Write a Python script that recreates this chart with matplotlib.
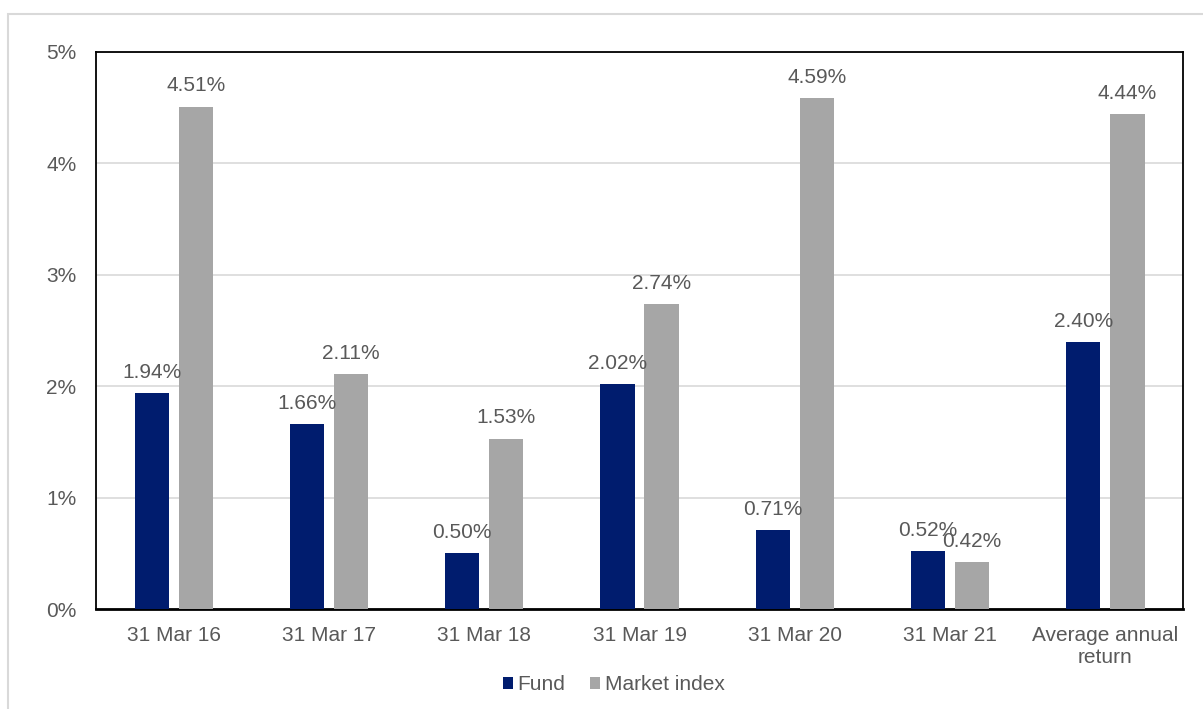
import numpy as np
import matplotlib.pyplot as plt
import matplotlib as mpl
from matplotlib.patches import Rectangle

plt.rcParams['font.family'] = ['Liberation Sans', 'DejaVu Sans']

categories = ['31 Mar 16', '31 Mar 17', '31 Mar 18', '31 Mar 19', '31 Mar 20',
              '31 Mar 21', 'Average annual\nreturn']
fund = [1.94, 1.66, 0.50, 2.02, 0.71, 0.52, 2.40]
market = [4.51, 2.11, 1.53, 2.74, 4.59, 0.42, 4.44]
yticks = [0, 1, 2, 3, 4, 5]

navy = '#001c6e'
grey = '#a6a6a6'
text_col = '#595959'

fig = plt.figure(figsize=(12.03, 7.09), dpi=100)
ax = fig.add_axes([0.0798, 0.141, 0.9036, 0.7857])

# light outer border like the source
fig.patches.append(Rectangle((8 / 1203, -0.02), 1.1, 1 - 14 / 709 + 0.02,
                             transform=fig.transFigure, fill=False,
                             edgecolor='#d9d9d9', linewidth=1.5))

x = np.arange(len(categories))
w = 0.22
off = 0.142
b1 = ax.bar(x - off, fund, w, color=navy, label='Fund', zorder=3)
b2 = ax.bar(x + off, market, w, color=grey, label='Market index', zorder=3)

for bars, vals in [(b1, fund), (b2, market)]:
    for b, v in zip(bars, vals):
        ax.annotate(f'{v:.2f}%', (b.get_x() + b.get_width() / 2, v),
                    xytext=(0, 8), textcoords='offset points',
                    ha='center', va='bottom', fontsize=15, color=text_col,
                    zorder=4)

ax.set_xlim(-0.5, len(categories) - 0.5)
ax.set_ylim(0, 5)
ax.set_yticks(yticks)
ax.set_yticklabels([f'{t}%' for t in yticks])
ax.set_xticks(x)
ax.set_xticklabels(categories, linespacing=1.25)
ax.tick_params(axis='both', length=0, labelsize=15, labelcolor=text_col)
ax.tick_params(axis='y', pad=14)
ax.tick_params(axis='x', pad=12)
ax.yaxis.grid(True, color='#d9d9d9', linewidth=1.2, zorder=0)
ax.set_axisbelow(True)
for s in ax.spines.values():
    s.set_color('black')
    s.set_linewidth(1.3)
ax.spines['bottom'].set_linewidth(2)

fig.legend(handles=[b1, b2], loc='center', bbox_to_anchor=(0.51, 0.034),
           ncol=2, frameon=False, fontsize=15, labelcolor=text_col,
           handlelength=0.5, handleheight=0.5, handletextpad=0.2,
           columnspacing=1.2)

plt.savefig('out.png', dpi=100)
